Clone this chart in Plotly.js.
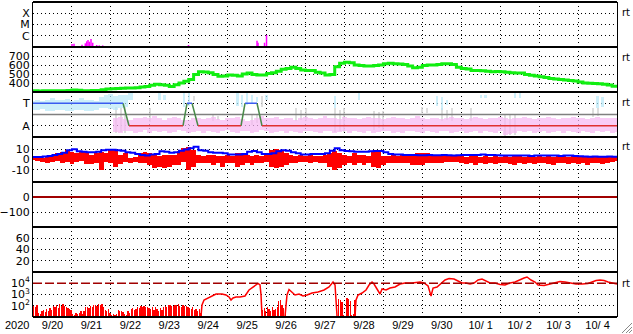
<!DOCTYPE html>
<html><head><meta charset="utf-8">
<script src="https://cdn.plot.ly/plotly-3.0.1.min.js"></script>
<style>html,body{margin:0;padding:0;background:#fff}#chart{width:633px;height:334px}</style>
</head><body><div id="chart"></div>
<script>
// ---- time axis: days since 2020-09-20 00:00 ----
const dayLabels = ['9/20','9/21','9/22','9/23','9/24','9/25','9/26','9/27','9/28','9/29','9/30','10/ 1','10/ 2','10/ 3','10/ 4'];
const binHours = 3; // cadence of binned series

// ---- panel 1: X-ray flare events ----
const xrayBase = 1e-7;
const xrayT    = [1.002,1.053,1.259,1.343,1.379,1.413,1.446,1.49,1.534,1.636,1.703,1.79,3.994,5.754,5.78,5.947,5.998];
const xrayPeak = [1.85e-7,1.96e-7,1.6e-7,2.13e-7,3.2e-7,4.2e-7,2.96e-7,5.1e-7,2.4e-7,1.5e-7,1.4e-7,1.4e-7,1.5e-7,3.6e-7,2.4e-7,2.4e-7,1.17e-6];

// ---- panel 2: solar wind speed (km/s), 3-hour bins ----
const speed = [315,312,315,315,313,315,315,318,322,320,315,315,316,318,325,333,335,338,342,344,344,348,355,362,375,385,380,376,362,380,400,420,440,495,525,522,515,495,475,478,490,485,478,500,512,495,488,490,505,515,530,552,560,575,560,545,540,540,520,510,490,495,580,620,630,625,600,595,590,590,595,600,615,620,615,612,605,590,570,575,595,600,600,605,615,615,605,575,560,555,540,538,535,530,525,528,525,520,515,512,510,495,485,478,470,460,450,445,440,432,428,422,410,400,398,395,393,385,378,365,355];

// ---- panel 3: IMF sector (phi, deg) ----
const sectorMid = 180;
const sectorT = [0,2.312,2.466,3.853,3.956,4.084,4.238,5.343,5.446,5.754,5.882,15];
const sectorV = [270,270,90,90,270,270,90,90,270,270,90,90];
const N = null;
const cyanHi = [290,300,285,300,310,295,300,305,290,300,310,295,300,290,320,340,345,330,340,335,350,N,N,N,N,N,350,340,N,N,N,355,350,N,N,N,N,N,N,N,N,N,350,340,350,340,320,N,340,N,N,N,N,N,N,N,N,N,N,N,N,N,330,N,N,N,N,350,N,N,N,N,N,N,N,N,N,N,N,N,N,N,N,330,320,300,N,N,N,N,N,N,340,340,N,N,N,N,N,355,350,N,N,N,N,N,N,N,N,N,N,N,N,N,N,N,330,320,N,N,N];
const cyanLo = [220,215,225,205,210,220,215,210,205,215,220,210,205,215,230,235,225,220,230,240,300,N,N,N,N,N,300,300,N,N,N,240,250,N,N,N,N,N,N,N,N,N,250,240,260,270,280,N,300,N,N,N,N,N,N,N,N,N,N,N,N,N,230,N,N,N,N,300,N,N,N,N,N,N,N,N,N,N,N,N,N,N,N,250,220,260,N,N,N,N,N,N,310,310,N,N,N,N,N,310,310,N,N,N,N,N,N,N,N,N,N,N,N,N,N,N,235,240,N,N,N];
const pinkHi = [N,N,N,N,N,N,N,N,N,N,N,N,N,N,N,N,N,150,160,145,140,150,155,160,150,165,150,140,155,160,150,140,135,150,155,145,150,160,145,140,150,155,160,145,130,140,150,165,155,150,160,145,155,150,140,150,160,155,145,150,165,155,150,145,160,150,155,145,150,160,155,150,145,150,160,155,150,145,155,165,150,145,155,150,145,150,160,155,150,145,155,160,150,145,150,155,160,150,145,155,150,160,155,145,150,155,160,150,145,155,150,160,155,150,145,150,160,155,150,155,150];
const pinkLo = [N,N,N,N,N,N,N,N,N,N,N,N,N,N,N,N,N,40,30,50,45,35,40,55,30,45,40,50,35,40,55,45,30,40,50,35,45,40,30,45,55,40,35,50,45,30,40,55,45,35,40,50,30,45,40,35,50,45,40,30,45,50,35,40,45,30,50,40,35,45,30,40,50,45,35,40,30,45,50,40,35,45,40,30,50,45,35,40,45,30,40,50,35,45,40,30,45,20,25,35,45,40,50,35,40,45,30,40,50,35,45,40,30,45,40,35,50,40,45,30,40];
const grayBin = [17,18,19,24,33,37,38,45,46,47,54,55,56,62,63,64,70,71,72,80,81,84,85,86,90,97,98,99,115,116];
const grayHi  = [240,230,240,230,330,175,170,180,175,330,230,220,230,230,220,230,210,200,210,240,235,230,220,230,230,180,175,180,235,230];
const grayLo  = [30,40,30,120,290,130,135,100,110,240,130,140,130,40,50,40,60,70,60,190,195,130,140,130,130,10,20,15,160,170];

// ---- panel 4: IMF Bt and Bz (nT), 3-hour bins ----
const bt = [2.5,2.5,3,3.5,4.5,5.5,6.5,9,10,8,7.5,7,7,7.5,9,9.5,9.5,9,8.5,7,6.5,5.5,4.5,4,4.8,5.5,8,7.5,6.5,7,8.5,9.8,11,12.5,9,8.5,7,6.5,6.5,6,5,4.8,4.8,5.5,7.5,8.2,7,5.5,5.5,6,8,9,8.5,7,6,5,5,5.5,5.5,5.5,6,8.5,11,9,8.2,8,7.5,7.5,7.5,8,8.2,8.2,7,5.5,5,4.8,4.5,4.5,4.3,4.2,4.2,4.5,4.2,4.2,4.5,4.2,4,4.2,4.5,4.5,4.5,4.5,4.8,4.5,4.5,4.2,4,3.8,3.8,4,3.8,3.8,3.5,3.8,3.8,4,3.8,3.8,3.5,3.8,3.8,3.5,3.2,3,2.8,3,2.8,2.8,3,2.8,3];
const bzHi = [2.7,2.5,1,2.5,4,6,7.5,9,7.5,6,7.5,7.5,4.5,6,7.5,6,9,9,4.5,6,1,2.5,6,7.5,6.3,
  4.6,3,4.6,4.6,4.6,8,11,12,9,4.6,3,4.6,4.6,3,3,4.6,3,6,6,4.6,3,4.6,3,4.6,9,10.5,9,6,4.6,3,4.6,
  3,4.6,3,3,4.6,6,8,6,4.6,3,6,4.6,4.6,3,8,8,3,3,4.6,3,4.6,3,4.6,6,6,6,4.6,3,3,3,4.6,4.6,
  3,2.5,4,3,2.5,3.5,2,3,2.5,3.5,2.5,3,4,2.5,3,2,3.5,2.5,3,2.5,3.5,3,2,3,2.5,3.5,2.5,3,2,3.5,3,2.5,3];
const bzLo = [-0.5,-1,-2,-3,-2,-1,-3.5,-2,-4.5,-2,-1,-4.5,-4.5,-3.5,-10,-2,-3.5,-7,-4.5,-2,-3.5,-2,-3,-3.5,-5,
  -8.3,-7,-8,-7,-5,-5,-2,-10,-7,-3.5,-3.5,-3.5,-5,-3.5,-7,-3.5,-3.5,-7,-5,-3.5,-5,-3.5,-3.5,-2,-7,-8.5,-7,-5,-3.5,-3.5,-2,
  -2,-3.5,-2,-3.5,-3.5,-7,-10.5,-8.5,-5,-3.5,-5,-3.5,-5,-3.5,-7,-8.5,-5,-3.5,-3.5,-3.5,-3.5,-3.5,-5,-5,-5,-3.5,-3.5,-3.5,-3.5,-2,-2,-2,
  -3.5,-4,-3,-5,-3.5,-4,-3,-4.5,-3.5,-3,-4,-5,-3.5,-4,-3,-4.5,-3.5,-3,-4,-5,-3.5,-3,-4,-3.5,-4.5,-3,-5,-3.5,-3,-4,-3,-2,-1.5];

// ---- panel 5: Dst (nT) and panel 6: no data in this period ----
const dstZero = 0;

// ---- panel 7: >2 MeV electron flux ----
const gtAlert = 1e4;
const gtLineT = [4.315,4.341,4.393,4.495,4.598,4.701,4.855,4.958,5.035,5.086,5.137,5.214,5.317,5.446,5.548,5.625,5.703,5.780,5.831,5.857,5.882,N,
  6.473,6.524,6.576,6.653,6.730,6.833,6.936,7.038,7.167,7.321,7.475,7.603,7.655,7.706,7.758,7.783,7.809,N,
  8.271,8.297,8.348,8.451,8.554,8.631,8.708,8.759,8.836,8.913,8.965,9.068,9.170,9.299,9.427,9.556,9.736,9.941,10.044,10.147,10.224,10.275,10.378,10.481,10.583,10.686,10.814,10.917,11.020,11.122,11.225,11.328,11.431,11.533,11.636,11.739,11.867,11.996,12.124,12.253,12.381,12.510,12.612,12.689,12.792,12.895,12.972,13.126,13.280,13.409,13.537,13.666,13.794,13.948,14.102,14.256,14.359,14.462,14.565,14.668,14.770,14.873,15.0];
const gtLineV = [12,117,324,489,736,1110,1110,903,600,324,489,600,600,736,2510,3780,5700,9500,6980,903,12,N,
  12,903,2780,1670,903,1110,736,903,1360,1670,2510,4640,6980,12900,6980,324,12,N,
  12,324,903,1360,2510,6980,12900,8580,3080,1110,3080,2510,3780,4640,8580,10500,10500,12900,10500,5700,736,3780,4640,10500,19500,26400,23900,15800,10500,10500,8580,10500,19500,23900,15800,10500,10500,7740,6980,10500,12900,21500,29300,35900,19500,12900,6980,6310,8580,12900,14300,12900,10500,8580,8580,9500,12900,17500,19500,17500,12900,10500,8580];
// hourly low-level flux (spiky quiet intervals); start hour of each run
const gtLowStart = [0,141,188];
const gtLowRuns = [
  [100,79,112,25,20,32,40,28,50,32,63,40,100,79,112,63,158,100,141,89,79,63,50,40,20,16,25,18,25,32,20,35,71,79,63,89,79,112,126,100,158,126,141,79,40,32,50,25,16,20,14,18,40,32,35,28,20,16,32,22,50,63,40,56,79,63,89,71,100,71,79,63,50,71,40,79,56,32,63,40,79,100,71,112,126,100,89,126,112,141,100,79,126,89,100,71,63,50,79,40,56,32,50,25],
  [40,63,32,79,50,35,71,40,56,79,251,316,126,63,40],
  [398,316,200,16,13,501,398,251,16,20,316]
];

// ---------------- build traces ----------------
const binT = arr => arr.map((_, i) => i * binHours / 24);
const traces = [];

// X-ray: vertical event lines
const xrX = [], xrY = [];
xrayT.forEach((t, i) => { xrX.push(t, t, null); xrY.push(xrayBase, xrayPeak[i], null); });
traces.push({type:'scatter', mode:'lines', x:xrX, y:xrY, yaxis:'y7', line:{color:'#ff00ff', width:1.5}, hoverinfo:'skip'});

// Speed
traces.push({type:'scatter', mode:'lines', x:binT(speed), y:speed, yaxis:'y6', line:{color:'#11ee11', width:3, shape:'hv'}, hoverinfo:'skip'});

// Sector panel: band bars
function bandBar(xs, hi, lo, color, width, yaxis, opacity) {
  return {type:'bar', x:xs, y:hi.map((h, i) => (h == null || lo[i] == null) ? null : h - lo[i]),
    base:lo, width:width, yaxis:yaxis, marker:{color:color, line:{width:0}, opacity:opacity}, hoverinfo:'skip'};
}
traces.push(bandBar(grayBin.map(b => b * binHours / 24), grayHi, grayLo, '#d6d6d6', 0.05, 'y5', 0.8));
const cyanBar = bandBar(binT(cyanHi), cyanHi, cyanLo, '#b8e8f8', 0.1, 'y5', 0.7);
cyanBar.width = cyanHi.map((_, i) => i <= 20 ? 0.125 : 0.06);
traces.push(cyanBar);
traces.push(bandBar(binT(pinkHi), pinkHi, pinkLo, '#f6b8f2', 0.125, 'y5', 0.72));
traces.push({type:'scatter', mode:'lines', x:[0, 15], y:[sectorMid, sectorMid], yaxis:'y5', line:{color:'#808080', width:1.5}, hoverinfo:'skip'});
// sector polarity line, coloured by state
const segs = {blue:{x:[],y:[]}, red:{x:[],y:[]}, green:{x:[],y:[]}};
for (let i = 0; i < sectorT.length - 1; i++) {
  const a = sectorV[i], b = sectorV[i + 1];
  const k = (a === 270 && b === 270) ? 'blue' : (a === 90 && b === 90) ? 'red' : 'green';
  segs[k].x.push(sectorT[i], sectorT[i + 1], null);
  segs[k].y.push(a, b, null);
}
traces.push({type:'scatter', mode:'lines', x:segs.green.x, y:segs.green.y, yaxis:'y5', line:{color:'#4a8a4a', width:1.5}, hoverinfo:'skip'});
traces.push({type:'scatter', mode:'lines', x:segs.blue.x, y:segs.blue.y, yaxis:'y5', line:{color:'#3a5cf0', width:1.5}, hoverinfo:'skip'});
traces.push({type:'scatter', mode:'lines', x:segs.red.x, y:segs.red.y, yaxis:'y5', line:{color:'#e03030', width:1.5}, hoverinfo:'skip'});

// Bt / Bz
traces.push({type:'scatter', mode:'lines', x:binT(bt), y:bt, yaxis:'y4', line:{color:'#0000ff', width:2, shape:'hv'}, hoverinfo:'skip'});
traces.push(bandBar(binT(bzHi), bzHi, bzLo, '#ff0000', 0.125, 'y4', 1));

// Dst / Kp placeholders (no data)
traces.push({type:'scatter', mode:'lines', x:[null], y:[null], yaxis:'y3', hoverinfo:'skip'});
traces.push({type:'scatter', mode:'lines', x:[null], y:[null], yaxis:'y2', hoverinfo:'skip'});

// Electron flux
const lowX = [], lowY = [];
gtLowRuns.forEach((run, r) => run.forEach((v, k) => { lowX.push((gtLowStart[r] + k + 0.5) / 24); lowY.push(v); }));
traces.push({type:'bar', x:lowX, y:lowY, width:0.8/24, yaxis:'y', marker:{color:'#ff0000', line:{width:0}}, hoverinfo:'skip'});
traces.push({type:'scatter', mode:'lines', x:gtLineT, y:gtLineV, yaxis:'y', line:{color:'#ff0000', width:1.5}, connectgaps:false, hoverinfo:'skip'});
traces.push({type:'scatter', mode:'lines', x:[0, 15], y:[gtAlert, gtAlert], yaxis:'y', line:{color:'#a00000', width:1.5, dash:'9px,3px'}, hoverinfo:'skip'});

// ---------------- layout ----------------
const H = 1 / 7;
const dotted = '1px,3px';
const tf = {family:'DejaVu Sans', size:11, color:'#000'};
function yax(k, extra) {
  return Object.assign({domain:[k * H, (k + 1) * H], anchor:'x', showline:true, mirror:true, linecolor:'#000', linewidth:1,
    showgrid:true, gridcolor:'#000', griddash:dotted, gridwidth:1, zeroline:false, ticks:'', tickfont:tf,
    tickmode:'array', fixedrange:true}, extra);
}
const sup = n => '10<sup>' + n + '</sup>';
const shapes = [];
for (let k = 0; k <= 7; k++) {
  shapes.push({type:'line', xref:'paper', yref:'paper', x0:0, x1:1, y0:k * H, y1:k * H, line:{color:'#000', width:2}, layer:'above'});
}
// window resize grip (decoration)
[[622,333,632,323],[626,333,632,327],[629,333,632,330]].forEach(p => shapes.push({type:'line', xref:'paper', yref:'paper',
  x0:(p[0]-33)/584, y0:(317-p[1])/315, x1:(p[2]-33)/584, y1:(317-p[3])/315, line:{color:'#888', width:1}}));

const rtY = [12, 57, 102, 146, 283];
const annotations = rtY.map(py => ({xref:'paper', yref:'paper', x:1, xanchor:'left', xshift:3, y:(317 - py) / 315, yanchor:'middle',
  text:'rt', showarrow:false, font:{family:'DejaVu Sans', size:10, color:'#000'}}));
annotations.push({xref:'paper', yref:'paper', x:(3 - 33) / 584, xanchor:'left', y:(317 - 325) / 315, yanchor:'middle',
  text:'2020', showarrow:false, font:{family:'Liberation Sans', size:11, color:'#000'}});

const layout = {
  width:633, height:334, margin:{l:33, r:16, t:2, b:17, autoexpand:false},
  paper_bgcolor:'#fff', plot_bgcolor:'#fff', showlegend:false, barmode:'overlay', bargap:0,
  font:tf,
  xaxis:{range:[0, 15], anchor:'y', tickmode:'array', tickvals:dayLabels.map((_, i) => i + 0.5), ticktext:dayLabels,
    showgrid:false, ticks:'', zeroline:false, showline:false, fixedrange:true,
    tickfont:{family:'Liberation Sans', size:11, color:'#000'},
    minor:{tickmode:'linear', tick0:0, dtick:1, showgrid:true, gridcolor:'#000', griddash:dotted, gridwidth:1}},
  yaxis:  yax(0, {type:'log', range:[1, 5], tickvals:[100, 1000, 10000], ticktext:[sup(2), sup(3), sup(4)]}),
  yaxis2: yax(1, {range:[0, 80], tickvals:[20, 40, 60]}),
  yaxis3: yax(2, {range:[-200, 100], tickvals:[-100, 0], zeroline:true, zerolinecolor:'#a00000', zerolinewidth:1.5}),
  yaxis4: yax(3, {range:[-22, 22], tickvals:[-10, 0, 10], ticktext:['-10', '0', '10'], zeroline:true, zerolinecolor:'#a00000', zerolinewidth:1.5}),
  yaxis5: yax(4, {range:[0, 360], tickvals:[90, 270], ticktext:['A', 'T']}),
  yaxis6: yax(5, {range:[300, 800], tickvals:[400, 500, 600, 700]}),
  yaxis7: yax(6, {type:'log', range:[-7, -3], tickvals:[1e-6, 1e-5, 1e-4], ticktext:['C', 'M', 'X']}),
  shapes:shapes, annotations:annotations
};
Plotly.newPlot('chart', traces, layout, {staticPlot:true});
</script></body></html>
